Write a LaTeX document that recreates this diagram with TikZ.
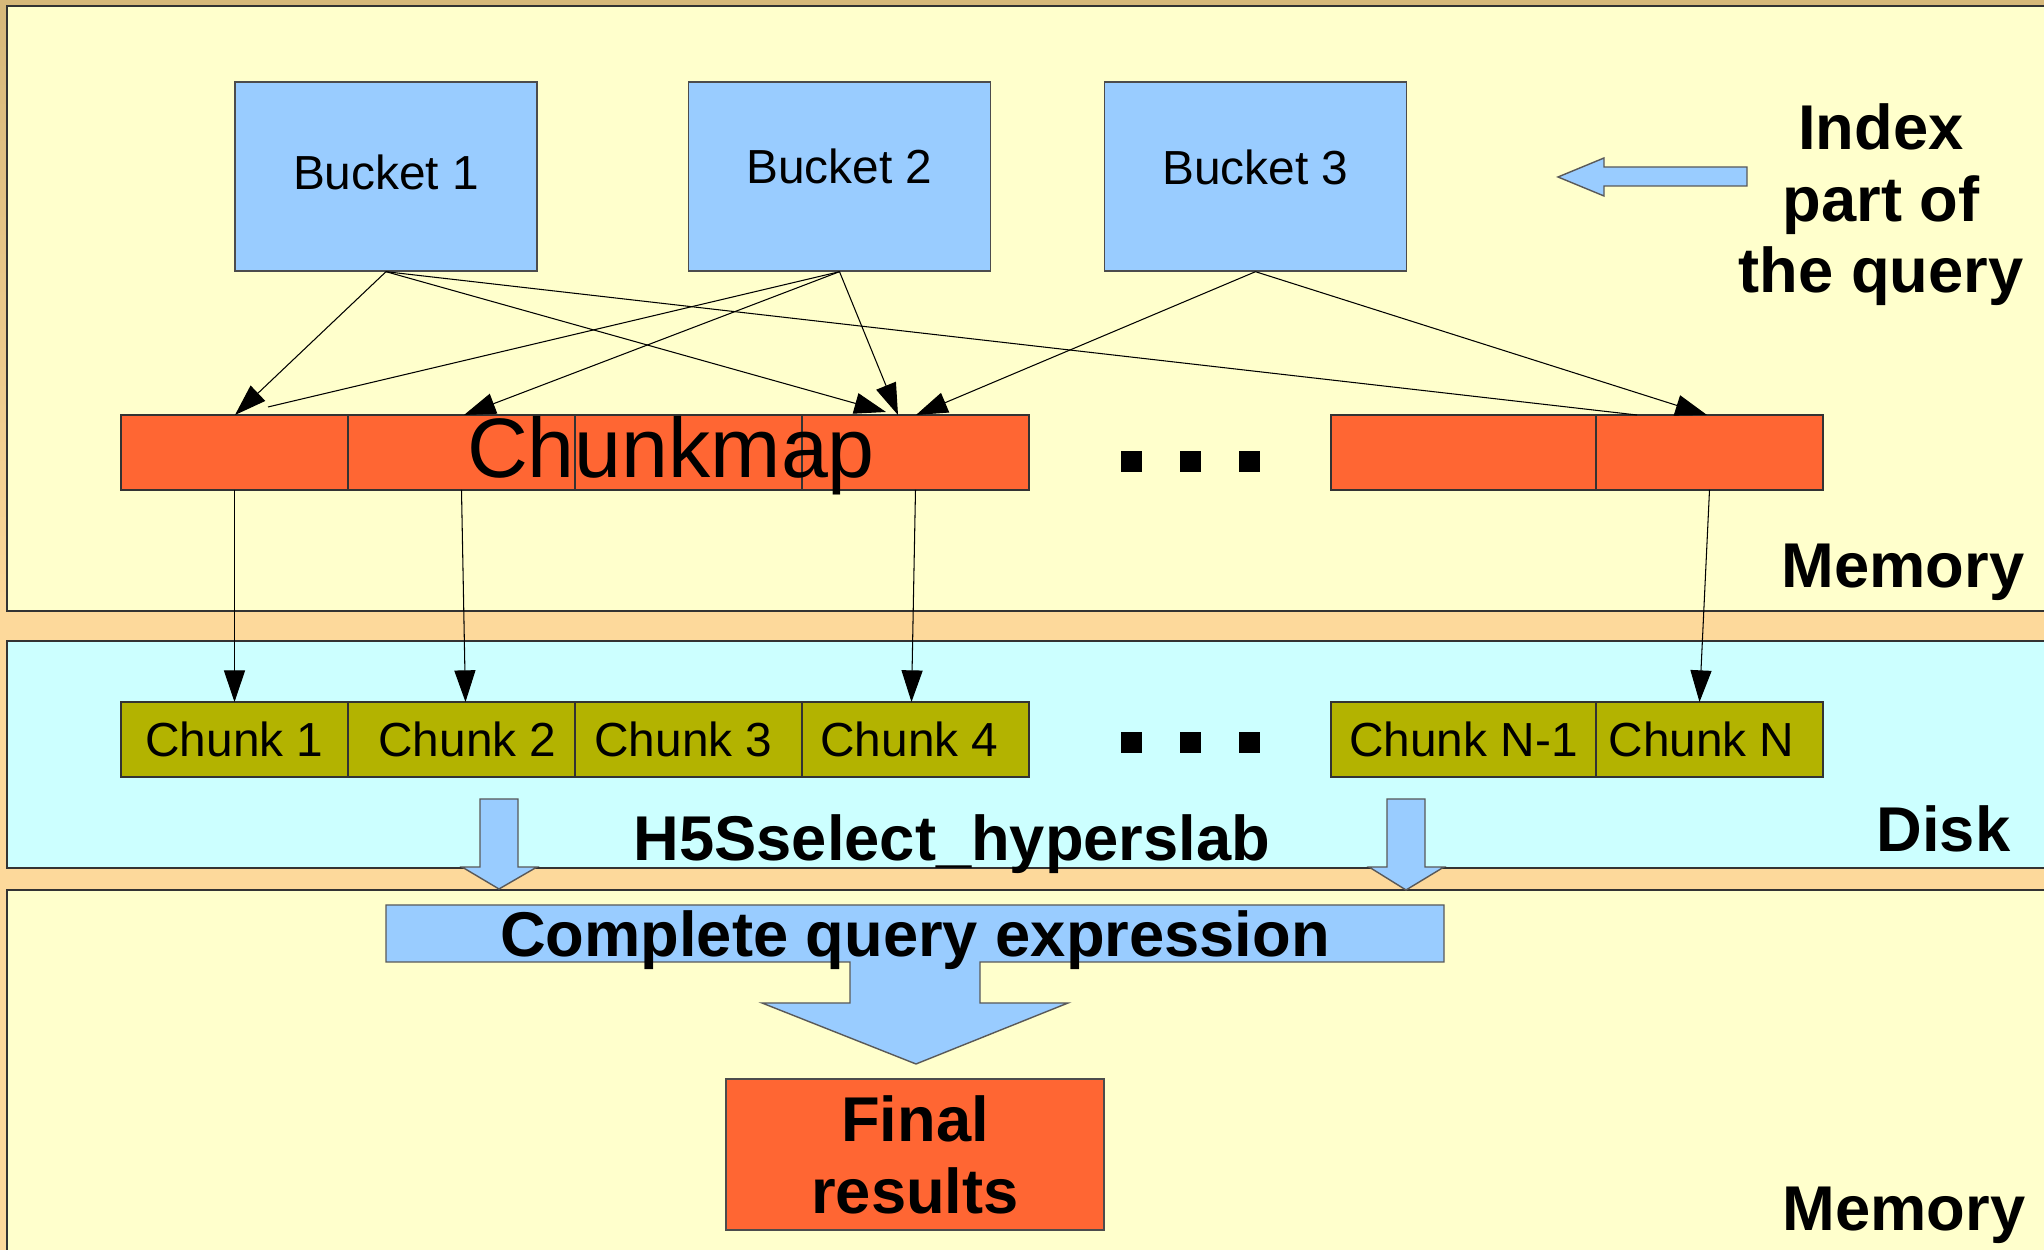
\documentclass[tikz,border=0pt]{standalone}
\usepackage{fontspec}
\setmainfont{Liberation Sans}
\usetikzlibrary{arrows.meta,positioning}

\definecolor{bgtan}{HTML}{FDD99B}
\definecolor{darktan}{HTML}{D6B87A}
\definecolor{panelyellow}{HTML}{FFFFCC}
\definecolor{diskcyan}{HTML}{CCFFFF}
\definecolor{bucketblue}{HTML}{99CCFF}
\definecolor{maporange}{HTML}{FF6633}
\definecolor{chunkolive}{HTML}{B3B300}

% lift a label inside its box without changing the box
\newcommand{\lift}[2]{\raisebox{#1}[\height][\depth]{#2}}

\begin{document}
\begin{tikzpicture}[x=0.1mm, y=-0.1mm,
    bucket/.style={draw=black!70, fill=bucketblue, minimum width=30.2mm, minimum height=18.9mm, inner sep=0pt, font=\fontsize{13.6}{16}\selectfont},
    mapcell/.style={draw=black!80, fill=maporange, minimum width=22.7mm, minimum height=7.5mm, inner sep=0pt, outer sep=0pt},
    chunk/.style={draw=black!80, fill=chunkolive, minimum width=22.7mm, minimum height=7.5mm, inner sep=0pt, outer sep=0pt, font=\fontsize{13.6}{16}\selectfont},
    biglabel/.style={inner sep=0pt, font=\fontsize{18}{20.3}\selectfont\bfseries},
    panel/.style={draw=black!80, line width=0.6pt},
    blockarrow/.style={draw=black!65, fill=bucketblue, line width=0.4pt},
    link/.style={line width=0.3pt},
    tip/.style={-{Triangle[length=9pt,width=6pt]}}]

    % Background and panels
    \useasboundingbox (0,0) rectangle (2044,1250);
    \clip (0,0) rectangle (2044,1250);
    \shade[top color=darktan, bottom color=bgtan] (0,0) rectangle (2044,620);
    \fill[bgtan] (0,619) rectangle (2044,1250);
    \draw[panel, fill=panelyellow] (7,6) rectangle (2070,611);
    \draw[panel, fill=diskcyan] (7,641) rectangle (2070,868);
    \draw[panel, fill=panelyellow] (7,890) rectangle (2070,1270);

    % Buckets
    \node[bucket] (bucket1) at (386,176.5) {\lift{0.45mm}{Bucket 1}};
    \node[bucket] (bucket2) at (839.5,176.5) {\lift{1.05mm}{Bucket 2}};
    \node[bucket] (bucket3) at (1255.5,176.5) {\lift{0.95mm}{Bucket 3}};

    % Chunkmap
    \node[mapcell] (map1) at (234.5,452.5) {};
    \node[mapcell, right=0pt of map1] (map2) {};
    \node[mapcell, right=0pt of map2] (map3) {};
    \node[mapcell, right=0pt of map3] (map4) {};
    \node[mapcell, minimum width=26.5mm] (map5) at (1463.5,452.5) {};
    \node[mapcell, right=0pt of map5] (map6) {};
    \node[anchor=base, inner sep=0pt, font=\fontsize{24}{28}\selectfont] (maptext) at (671,478) {Chunkmap};

    % Chunks on disk
    \node[chunk] (chunk1) at (234.5,739.5) {Chunk 1};
    \node[chunk, right=0pt of chunk1] (chunk2) {\hspace*{1.2mm}Chunk 2};
    \node[chunk, right=0pt of chunk2] (chunk3) {Chunk 3\hspace*{1mm}};
    \node[chunk, right=0pt of chunk3] (chunk4) {Chunk 4\hspace*{1.2mm}};
    \node[chunk, minimum width=26.5mm] (chunk5) at (1463.5,739.5) {Chunk N-1};
    \node[chunk, right=0pt of chunk5] (chunk6) {Chunk N\hspace*{1.6mm}};

    % Dots
    \foreach \x in {1131,1190,1249} {
        \fill (\x-10.5,451.5) rectangle +(21,21);
        \fill (\x-10.5,732.5) rectangle +(21,21);
    }

    % Where the bucket lines hit the chunkmap
    \coordinate (hit11) at (235,415);
    \coordinate (hit14) at (886,412);
    \coordinate (hit16) at (1637,415);
    \coordinate (hit21) at (268,407);
    \coordinate (hit22) at (464,415);
    \coordinate (hit24) at (898,415);
    \coordinate (hit34) at (916,415);
    \coordinate (hit36) at (1707,415);

    % Connection
    \draw[link, tip] (bucket1.south) -- (hit11);
    \draw[link, tip] (bucket1.south) -- (hit14);
    \draw[link] (bucket1.south) -- (hit16);
    \draw[link] (bucket2.south) -- (hit21);
    \draw[link, tip] (bucket2.south) -- (hit22);
    \draw[link, tip] (bucket2.south) -- (hit24);
    \draw[link, tip] (bucket3.south) -- (hit34);
    \draw[link, tip] (bucket3.south) -- (hit36);

    \draw[link, tip] (map1.south) -- (chunk1.north);
    \draw[link, tip] (map2.south) -- ([xshift=0.4mm]chunk2.north);
    \draw[link, tip] (map4.south) -- ([xshift=-0.4mm]chunk4.north);
    \draw[link, tip] (map6.south) -- ([xshift=-1mm]chunk6.north);

    % Block arrows
    \draw[blockarrow] (1558,177) -- (1604,158) -- (1604,167) -- (1747,167) -- (1747,186) -- (1604,186) -- (1604,196) -- cycle;
    \draw[blockarrow] (480,799) -- (518,799) -- (518,867) -- (537,867) -- (499,889) -- (462,867) -- (480,867) -- cycle;
    \draw[blockarrow] (1387,799) -- (1425,799) -- (1425,867) -- (1444,867) -- (1406,890) -- (1369,867) -- (1387,867) -- cycle;
    \draw[blockarrow] (386,905) -- (1444,905) -- (1444,962) -- (980,962) -- (980,1003) -- (1068,1003) -- (916,1064)
        -- (762,1003) -- (850,1003) -- (850,962) -- (386,962) -- cycle;

    % Text
    \node[biglabel, align=center] (index) at (1881,205) {Index\\part of\\the query};
    \node[biglabel, anchor=base east] (memtop) at (2025,588) {Memory};
    \node[biglabel, anchor=base east] (disk) at (2011,852) {Disk};
    \node[biglabel, anchor=base east] (membottom) at (2026,1231) {Memory};
    \node[biglabel, anchor=base] (hyperslab) at (952,861) {H5Sselect\_hyperslab};
    \node[biglabel, anchor=base] (query) at (915,957) {Complete query expression};

    % Result
    \node[draw=black!70, fill=maporange, minimum width=37.8mm, minimum height=15.1mm, align=center,
        font=\fontsize{18}{20.5}\selectfont\bfseries] (final) at (915,1154.5) {Final\\results};
  \end{tikzpicture}
\end{document}
